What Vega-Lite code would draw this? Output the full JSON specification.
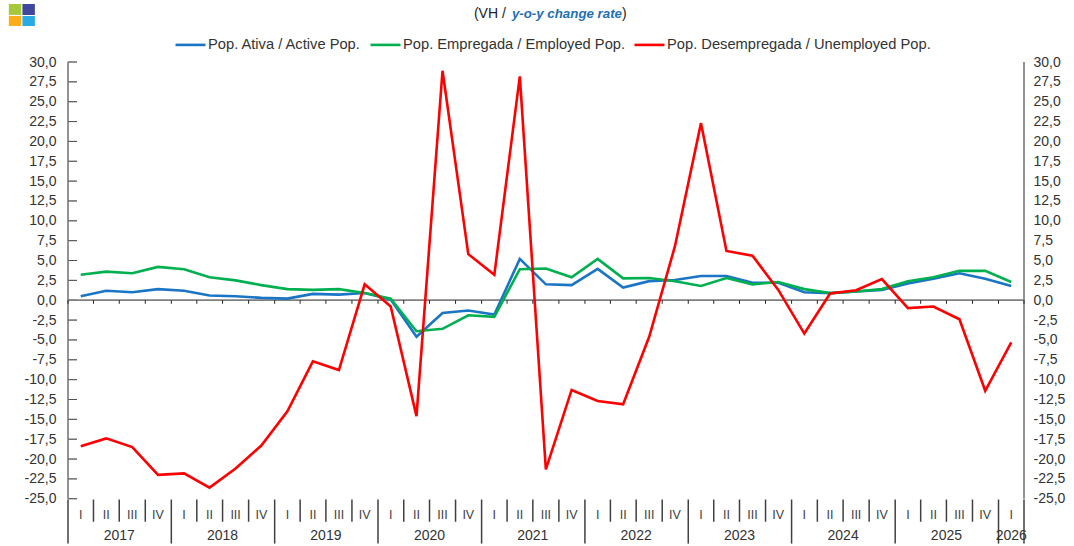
{
"$schema":"https://vega.github.io/schema/vega-lite/v6.json",
"width":956,"height":482,
"autosize":{"type":"none"},
"padding":{"left":68,"top":62,"right":50,"bottom":2},
"background":"white",
"config":{"view":{"stroke":null},"font":"Liberation Sans"},
"datasets":{
"levels":[{"v":-25},{"v":-22.5},{"v":-20},{"v":-17.5},{"v":-15},{"v":-12.5},{"v":-10},{"v":-7.5},{"v":-5},{"v":-2.5},{"v":0},{"v":2.5},{"v":5},{"v":7.5},{"v":10},{"v":12.5},{"v":15},{"v":17.5},{"v":20},{"v":22.5},{"v":25},{"v":27.5},{"v":30}],
"logo":[
{"a":"2016-06-06","b":"2016-07-20","lo":35.93,"hi":37.31,"c":"#a6c93c"},
{"a":"2016-07-24","b":"2016-09-06","lo":35.93,"hi":37.31,"c":"#40489e"},
{"a":"2016-06-06","b":"2016-07-20","lo":34.54,"hi":35.8,"c":"#fbae1c"},
{"a":"2016-07-24","b":"2016-09-06","lo":34.54,"hi":35.8,"c":"#2aaae2"}],
"seps":[
{"d":"2017-01-01","k":"y"},{"d":"2017-04-01","k":"q"},{"d":"2017-07-01","k":"q"},{"d":"2017-10-01","k":"q"},
{"d":"2018-01-01","k":"y"},{"d":"2018-04-01","k":"q"},{"d":"2018-07-01","k":"q"},{"d":"2018-10-01","k":"q"},
{"d":"2019-01-01","k":"y"},{"d":"2019-04-01","k":"q"},{"d":"2019-07-01","k":"q"},{"d":"2019-10-01","k":"q"},
{"d":"2020-01-01","k":"y"},{"d":"2020-04-01","k":"q"},{"d":"2020-07-01","k":"q"},{"d":"2020-10-01","k":"q"},
{"d":"2021-01-01","k":"y"},{"d":"2021-04-01","k":"q"},{"d":"2021-07-01","k":"q"},{"d":"2021-10-01","k":"q"},
{"d":"2022-01-01","k":"y"},{"d":"2022-04-01","k":"q"},{"d":"2022-07-01","k":"q"},{"d":"2022-10-01","k":"q"},
{"d":"2023-01-01","k":"y"},{"d":"2023-04-01","k":"q"},{"d":"2023-07-01","k":"q"},{"d":"2023-10-01","k":"q"},
{"d":"2024-01-01","k":"y"},{"d":"2024-04-01","k":"q"},{"d":"2024-07-01","k":"q"},{"d":"2024-10-01","k":"q"},
{"d":"2025-01-01","k":"y"},{"d":"2025-04-01","k":"q"},{"d":"2025-07-01","k":"q"},{"d":"2025-10-01","k":"q"},
{"d":"2026-01-01","k":"y"},{"d":"2026-04-01","k":"y"}],
"years":[
{"d":"2017-07-01","t":"2017"},{"d":"2018-07-01","t":"2018"},{"d":"2019-07-01","t":"2019"},{"d":"2020-07-01","t":"2020"},{"d":"2021-07-01","t":"2021"},{"d":"2022-07-01","t":"2022"},{"d":"2023-07-01","t":"2023"},{"d":"2024-07-01","t":"2024"},{"d":"2025-07-01","t":"2025"},{"d":"2026-02-15","t":"2026"}],
"series":[
{"d":"2017-02-15","q":"I","a":0.5,"e":3.2,"u":-18.4},
{"d":"2017-05-16","q":"II","a":1.2,"e":3.6,"u":-17.4},
{"d":"2017-08-16","q":"III","a":1.0,"e":3.4,"u":-18.5},
{"d":"2017-11-15","q":"IV","a":1.4,"e":4.2,"u":-22.0},
{"d":"2018-02-15","q":"I","a":1.2,"e":3.9,"u":-21.8},
{"d":"2018-05-16","q":"II","a":0.6,"e":2.9,"u":-23.6},
{"d":"2018-08-16","q":"III","a":0.5,"e":2.5,"u":-21.2},
{"d":"2018-11-15","q":"IV","a":0.3,"e":1.9,"u":-18.3},
{"d":"2019-02-15","q":"I","a":0.2,"e":1.4,"u":-14.0},
{"d":"2019-05-16","q":"II","a":0.8,"e":1.3,"u":-7.7},
{"d":"2019-08-16","q":"III","a":0.7,"e":1.4,"u":-8.8},
{"d":"2019-11-15","q":"IV","a":0.9,"e":0.9,"u":2.0},
{"d":"2020-02-15","q":"I","a":0.1,"e":0.2,"u":-0.8},
{"d":"2020-05-16","q":"II","a":-4.6,"e":-3.9,"u":-14.6},
{"d":"2020-08-16","q":"III","a":-1.6,"e":-3.6,"u":28.9},
{"d":"2020-11-15","q":"IV","a":-1.3,"e":-1.9,"u":5.8},
{"d":"2021-02-15","q":"I","a":-1.8,"e":-2.1,"u":3.2},
{"d":"2021-05-16","q":"II","a":5.2,"e":3.9,"u":28.2},
{"d":"2021-08-16","q":"III","a":2.0,"e":4.0,"u":-21.3},
{"d":"2021-11-15","q":"IV","a":1.9,"e":2.9,"u":-11.3},
{"d":"2022-02-15","q":"I","a":3.95,"e":5.2,"u":-12.7},
{"d":"2022-05-16","q":"II","a":1.6,"e":2.75,"u":-13.1},
{"d":"2022-08-16","q":"III","a":2.4,"e":2.8,"u":-4.6},
{"d":"2022-11-15","q":"IV","a":2.55,"e":2.4,"u":6.8},
{"d":"2023-02-15","q":"I","a":3.05,"e":1.8,"u":22.3},
{"d":"2023-05-16","q":"II","a":3.05,"e":2.8,"u":6.2},
{"d":"2023-08-16","q":"III","a":2.2,"e":2.0,"u":5.6},
{"d":"2023-11-15","q":"IV","a":2.2,"e":2.3,"u":1.3},
{"d":"2024-02-15","q":"I","a":1.0,"e":1.4,"u":-4.2},
{"d":"2024-05-16","q":"II","a":0.9,"e":0.9,"u":0.85},
{"d":"2024-08-16","q":"III","a":1.1,"e":1.1,"u":1.25},
{"d":"2024-11-15","q":"IV","a":1.3,"e":1.4,"u":2.65},
{"d":"2025-02-15","q":"I","a":2.1,"e":2.4,"u":-1.0},
{"d":"2025-05-16","q":"II","a":2.7,"e":2.9,"u":-0.8},
{"d":"2025-08-16","q":"III","a":3.4,"e":3.7,"u":-2.4},
{"d":"2025-11-15","q":"IV","a":2.7,"e":3.7,"u":-11.4},
{"d":"2026-02-15","q":"I","a":1.8,"e":2.3,"u":-5.3}]
},
"resolve":{"axis":{"y":"independent"}},
"layer":[
{"data":{"name":"levels"},"mark":{"type":"tick","orient":"horizontal","size":9,"thickness":1,"color":"#404040"},
 "encoding":{"x":{"datum":"2017-01-01","type":"temporal","scale":{"domain":["2017-01-01","2026-04-01"]},"axis":null},
 "y":{"field":"v","type":"quantitative","scale":{"domain":[-30.7,30],"nice":false,"zero":false},
 "axis":{"orient":"left","title":null,"values":[-25,-22.5,-20,-17.5,-15,-12.5,-10,-7.5,-5,-2.5,0,2.5,5,7.5,10,12.5,15,17.5,20,22.5,25,27.5,30],"ticks":false,"domain":false,"grid":false,"labelPadding":12,"labelFontSize":14,"labelColor":"#333333","labelFont":"Liberation Sans","labelExpr":"replace(replace(format(datum.value,'.1f'),'.',','),'\u2212','-')"}}}},
{"data":{"name":"levels"},"mark":{"type":"tick","orient":"horizontal","size":9,"thickness":1,"color":"#404040"},
 "encoding":{"x":{"datum":"2026-04-01","type":"temporal","axis":null},
 "y":{"field":"v","type":"quantitative",
 "axis":{"orient":"right","title":null,"values":[-25,-22.5,-20,-17.5,-15,-12.5,-10,-7.5,-5,-2.5,0,2.5,5,7.5,10,12.5,15,17.5,20,22.5,25,27.5,30],"ticks":false,"domain":false,"grid":false,"labelPadding":9,"labelFontSize":14,"labelColor":"#333333","labelFont":"Liberation Sans","labelExpr":"replace(replace(format(datum.value,'.1f'),'.',','),'\u2212','-')"}}}},
{"mark":{"type":"rule","color":"#6f6f6f","strokeWidth":1.5},"data":{"values":[{"d":"2017-01-01","lo":-25,"hi":30},{"d":"2026-04-01","lo":-25,"hi":30}]},
 "encoding":{"x":{"field":"d","type":"temporal","axis":null},"y":{"field":"lo","type":"quantitative","axis":null},"y2":{"field":"hi"}}},
{"mark":{"type":"rule","color":"#7f7f7f","strokeWidth":1.8},"data":{"values":[{"a":"2017-01-01","b":"2026-04-01"}]},
 "encoding":{"x":{"field":"a","type":"temporal","axis":null},"x2":{"field":"b"},"y":{"datum":0,"axis":null}}},
{"data":{"name":"seps"},"mark":{"type":"rule","color":"#222222","strokeWidth":1},
 "encoding":{"x":{"field":"d","type":"temporal","axis":null},"y":{"datum":0,"axis":null},"y2":{"datum":-0.45}}},
{"data":{"name":"seps"},"transform":[{"filter":"datum.k==='q'"}],"mark":{"type":"rule","color":"#404040","strokeWidth":1.5},
 "encoding":{"x":{"field":"d","type":"temporal","axis":null},"y":{"datum":-25.1,"axis":null},"y2":{"datum":-27.9}}},
{"data":{"name":"seps"},"transform":[{"filter":"datum.k==='y'"}],"mark":{"type":"rule","color":"#404040","strokeWidth":1.5},
 "encoding":{"x":{"field":"d","type":"temporal","axis":null},"y":{"datum":-25.1,"axis":null},"y2":{"datum":-30.65}}},
{"data":{"name":"series"},"mark":{"type":"text","fontSize":12.5,"color":"#404040","baseline":"middle"},
 "encoding":{"x":{"field":"d","type":"temporal","axis":null},"y":{"datum":-27.0,"axis":null},"text":{"field":"q"}}},
{"data":{"name":"years"},"mark":{"type":"text","fontSize":14,"color":"#333333","baseline":"middle"},
 "encoding":{"x":{"field":"d","type":"temporal","axis":null},"y":{"datum":-29.75,"axis":null},"text":{"field":"t"}}},
{"data":{"name":"series"},
 "transform":[{"fold":["a","e","u"],"as":["key","val"]},
 {"calculate":"datum.key==='a'?'Pop. Ativa / Active Pop.':datum.key==='e'?'Pop. Empregada / Employed Pop.':'Pop. Desempregada / Unemployed Pop.'","as":"Serie"}],
 "mark":{"type":"line","strokeJoin":"miter","clip":false},
 "encoding":{"x":{"field":"d","type":"temporal","axis":null},"y":{"field":"val","type":"quantitative","axis":null},
 "strokeWidth":{"field":"Serie","type":"nominal","scale":{"domain":["Pop. Ativa / Active Pop.","Pop. Empregada / Employed Pop.","Pop. Desempregada / Unemployed Pop."],"range":[2.6,2.6,3.4]},"legend":null},
 "color":{"field":"Serie","type":"nominal","sort":null,"scale":{"domain":["Pop. Ativa / Active Pop.","Pop. Empregada / Employed Pop.","Pop. Desempregada / Unemployed Pop."],"range":["#1a75c4","#00b050","#ff0000"]},
 "legend":{"title":null,"orient":"none","direction":"horizontal","legendX":106,"legendY":-34,"symbolType":"stroke","symbolSize":900,"symbolStrokeWidth":2.6,"labelFontSize":14.7,"labelLimit":400,"labelColor":"#333333","labelOffset":1,"columnPadding":3,"labelFont":"Liberation Sans"}}}},
{"data":{"name":"logo"},"mark":{"type":"rect"},
 "encoding":{"x":{"field":"a","type":"temporal","axis":null},"x2":{"field":"b"},"y":{"field":"lo","type":"quantitative","axis":null},"y2":{"field":"hi"},"fill":{"field":"c","type":"nominal","scale":null,"legend":null}}},
{"data":{"values":[{"d":"2020-12-05","t":"(VH /"},{"d":"2022-05-12","t":")"}]},
 "mark":{"type":"text","fontSize":14,"color":"#222222","align":"left","baseline":"middle"},
 "encoding":{"x":{"field":"d","type":"temporal","axis":null},"y":{"datum":36.1,"axis":null},"text":{"field":"t"}}},
{"data":{"values":[{"d":"2021-04-18","t":"y-o-y change rate"}]},
 "mark":{"type":"text","fontSize":13.3,"fontWeight":"bold","fontStyle":"italic","color":"#1f6fb2","align":"left","baseline":"middle"},
 "encoding":{"x":{"field":"d","type":"temporal","axis":null},"y":{"datum":36.1,"axis":null},"text":{"field":"t"}}}
]
}
